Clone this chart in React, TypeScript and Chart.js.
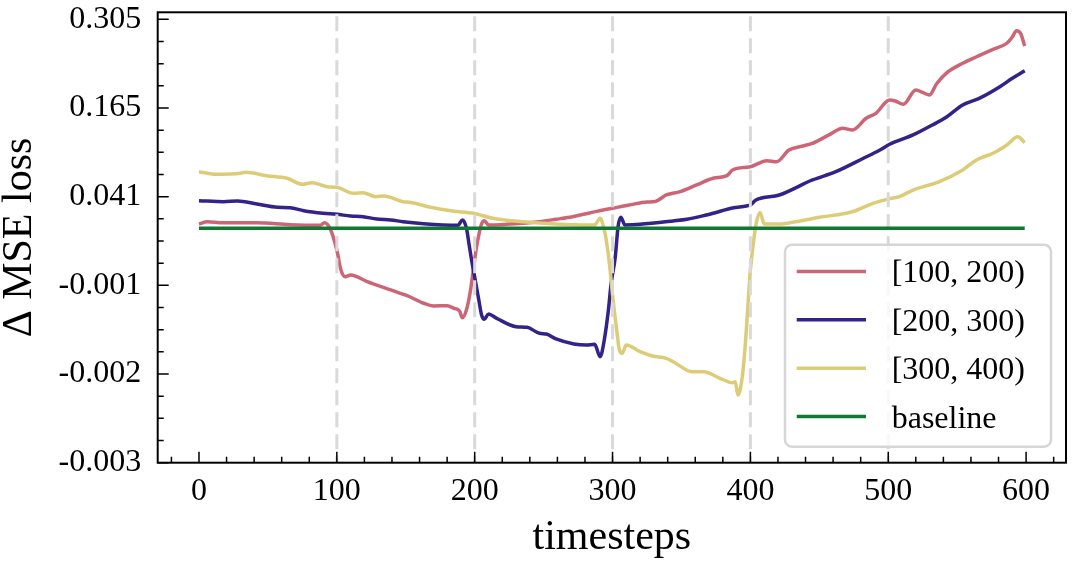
import { useEffect, useRef } from "react";
import { Chart, registerables } from "chart.js";

Chart.register(...registerables);

// Values are expressed in axis units of the (non-linear) loss axis: tick i carries label yTickLabels[i].
const yTickLabels = ["-0.003", "-0.002", "-0.001", "0.041", "0.165", "0.305"];
const boundaries = [100, 200, 300, 400, 500];

const seriesLabels = ["[100, 200)", "[200, 300)", "[300, 400)", "baseline"];
const seriesColors = ["#CC6677", "#332288", "#DDCC77", "#117733"];

const t100 = [0, 6, 17, 42, 66, 88, 91, 95, 100, 103, 106, 110, 122, 139, 151, 163, 170, 180, 185, 189, 191, 194, 197, 199, 201, 203, 205, 207, 210, 223, 235, 247, 259, 271, 284, 296, 300, 308, 312, 325, 331, 339, 349, 361, 373, 383, 387, 400, 412, 419, 428, 436, 445, 457, 467, 474, 484, 491, 501, 505, 511, 520, 525, 530, 535, 542, 554, 564, 576, 586, 590, 593, 596, 599];
const loss100 = [2.692, 2.718, 2.706, 2.706, 2.684, 2.677, 2.706, 2.643, 2.399, 2.173, 2.098, 2.117, 2.041, 1.948, 1.883, 1.798, 1.767, 1.77, 1.741, 1.711, 1.635, 1.722, 1.948, 2.173, 2.399, 2.568, 2.692, 2.729, 2.681, 2.688, 2.7, 2.718, 2.745, 2.774, 2.819, 2.858, 2.869, 2.895, 2.906, 2.94, 2.946, 3.019, 3.056, 3.132, 3.207, 3.237, 3.301, 3.338, 3.406, 3.394, 3.526, 3.564, 3.602, 3.696, 3.771, 3.752, 3.884, 3.94, 4.09, 4.079, 4.042, 4.203, 4.175, 4.147, 4.271, 4.391, 4.504, 4.578, 4.662, 4.73, 4.801, 4.872, 4.842, 4.699];

const t200 = [0, 18, 28, 42, 57, 66, 76, 90, 100, 110, 119, 129, 139, 148, 163, 177, 188, 191, 194, 196, 198, 200, 203, 205, 207, 210, 216, 230, 238, 247, 252, 259, 272, 281, 287, 291, 294, 297, 299, 302, 304, 306, 309, 320, 344, 354, 368, 373, 387, 397, 400, 404, 421, 445, 462, 482, 494, 501, 518, 532, 542, 554, 566, 581, 590, 599];
const loss200 = [2.955, 2.943, 2.951, 2.917, 2.88, 2.876, 2.842, 2.813, 2.801, 2.782, 2.774, 2.748, 2.737, 2.718, 2.695, 2.681, 2.677, 2.737, 2.647, 2.455, 2.263, 2.094, 1.835, 1.666, 1.617, 1.677, 1.628, 1.534, 1.527, 1.459, 1.451, 1.395, 1.339, 1.327, 1.335, 1.195, 1.384, 1.722, 2.023, 2.323, 2.661, 2.767, 2.681, 2.688, 2.726, 2.745, 2.793, 2.813, 2.872, 2.895, 2.906, 2.962, 3.019, 3.188, 3.282, 3.433, 3.526, 3.591, 3.696, 3.808, 3.895, 4.034, 4.109, 4.24, 4.335, 4.421];

const t300 = [0, 13, 30, 34, 49, 64, 75, 82, 93, 100, 112, 119, 128, 134, 148, 153, 168, 184, 199, 213, 235, 259, 283, 287, 291, 294, 296, 298, 300, 303, 305, 307, 310, 320, 329, 339, 344, 358, 366, 378, 387, 389, 391, 394, 396, 398, 400, 402, 404, 407, 410, 421, 433, 450, 474, 489, 499, 508, 518, 537, 554, 564, 576, 586, 594, 599];
const loss300 = [3.282, 3.252, 3.264, 3.275, 3.237, 3.207, 3.14, 3.158, 3.112, 3.106, 3.038, 3.045, 3.0, 3.008, 2.943, 2.937, 2.88, 2.838, 2.813, 2.756, 2.718, 2.692, 2.681, 2.681, 2.756, 2.624, 2.455, 2.21, 1.891, 1.496, 1.271, 1.234, 1.327, 1.252, 1.203, 1.177, 1.139, 1.026, 1.026, 0.952, 0.902, 0.913, 0.763, 0.955, 1.271, 1.722, 2.173, 2.455, 2.681, 2.822, 2.692, 2.692, 2.718, 2.767, 2.83, 2.925, 2.97, 3.0, 3.075, 3.169, 3.301, 3.414, 3.489, 3.583, 3.676, 3.609];

const tBaseline = [0, 599];
const lossBaseline = [2.643, 2.643];

const FONT = "'Liberation Serif', 'Times New Roman', serif";

const toPoints = (xs: number[], ys: number[]) => xs.map((x, i) => ({ x, y: ys[i] }));

const decorPlugin = {
  id: "decor",
  afterDatasetDraw(chart: any, args: any) {
    if (args.index !== 2) return;
    const { ctx, chartArea: a, scales } = chart;
    ctx.save();
    ctx.beginPath();
    ctx.rect(a.left, a.top, a.right - a.left, a.bottom - a.top);
    ctx.clip();
    ctx.strokeStyle = "#d9d9d9";
    ctx.lineWidth = 3;
    ctx.setLineDash([15, 7]);
    for (const b of boundaries) {
      const px = scales.x.getPixelForValue(b);
      ctx.beginPath();
      ctx.moveTo(px, a.top + 4);
      ctx.lineTo(px, a.bottom);
      ctx.stroke();
    }
    ctx.restore();
  },
  afterDraw(chart: any) {
    const { ctx, chartArea: a, scales } = chart;
    const xs = scales.x;
    const ys = scales.y;
    ctx.save();
    // spines
    ctx.strokeStyle = "#000";
    ctx.lineWidth = 2;
    ctx.setLineDash([]);
    ctx.strokeRect(a.left, a.top, a.right - a.left, a.bottom - a.top);
    // y ticks (inward)
    ctx.lineWidth = 1.5;
    ctx.beginPath();
    for (let v = 0; v <= ys.max + 1e-9; v += 0.25) {
      const py = ys.getPixelForValue(v);
      const major = Math.abs(v - Math.round(v)) < 1e-6;
      const len = major ? 11 : 6;
      ctx.moveTo(a.left, py);
      ctx.lineTo(a.left + len, py);
    }
    // x ticks (inward)
    for (let v = -20; v <= xs.max; v += 20) {
      if (v < xs.min) continue;
      const px = xs.getPixelForValue(v);
      const major = v % 100 === 0;
      const len = major ? 11 : 6;
      ctx.moveTo(px, a.bottom);
      ctx.lineTo(px, a.bottom - len);
    }
    ctx.stroke();

    // axis titles
    ctx.fillStyle = "#000";
    ctx.font = `42px ${FONT}`;
    ctx.textAlign = "center";
    ctx.textBaseline = "alphabetic";
    ctx.fillText("timesteps", (a.left + a.right) / 2, 549);
    ctx.save();
    ctx.translate(31, (a.top + a.bottom) / 2);
    ctx.rotate(-Math.PI / 2);
    ctx.fillText("\u0394 MSE loss", 0, 0);
    ctx.restore();

    // legend
    const bw = 266;
    const bh = 202;
    const bx = a.right - 15 - bw;
    const by = a.bottom - 16 - bh;
    ctx.beginPath();
    ctx.roundRect(bx, by, bw, bh, 7);
    ctx.fillStyle = "rgba(255,255,255,0.8)";
    ctx.fill();
    ctx.strokeStyle = "#d6d6d6";
    ctx.lineWidth = 2.5;
    ctx.stroke();
    ctx.font = `32px ${FONT}`;
    ctx.textAlign = "left";
    ctx.textBaseline = "alphabetic";
    chart.data.datasets.forEach((ds: any, i: number) => {
      const ry = by + 26.7 + i * 48.4;
      ctx.strokeStyle = ds.borderColor;
      ctx.lineWidth = 3.5;
      ctx.beginPath();
      ctx.moveTo(bx + 11.7, ry);
      ctx.lineTo(bx + 81, ry);
      ctx.stroke();
      ctx.fillStyle = "#000";
      ctx.fillText(ds.label, bx + 106.7, ry + 11);
    });
    ctx.restore();
  },
};

export default function App() {
  const canvasRef = useRef<HTMLCanvasElement | null>(null);

  useEffect(() => {
    document.body.style.margin = "0";
    const canvas = canvasRef.current;
    if (!canvas) return;
    const series = [
      toPoints(t100, loss100),
      toPoints(t200, loss200),
      toPoints(t300, loss300),
      toPoints(tBaseline, lossBaseline),
    ];
    const chart = new Chart(canvas, {
      type: "line",
      data: {
        datasets: series.map((data, i) => ({
          label: seriesLabels[i],
          data,
          borderColor: seriesColors[i],
          backgroundColor: seriesColors[i],
          borderWidth: 3.5,
          pointRadius: 0,
          fill: false,
          cubicInterpolationMode: "monotone" as const,
          order: 3 - i,
        })),
      },
      options: {
        animation: false,
        responsive: false,
        devicePixelRatio: 1,
        layout: { padding: { left: 0, right: 7, top: 12.3, bottom: 0 } },
        plugins: { legend: { display: false }, tooltip: { enabled: false } },
        scales: {
          x: {
            type: "linear",
            min: -29.95,
            max: 628.95,
            afterFit: (s: any) => {
              s.height = 100.3;
              s.paddingLeft = 0;
              s.paddingRight = 0;
            },
            grid: { display: false, drawTicks: false },
            border: { display: false },
            ticks: {
              stepSize: 100,
              includeBounds: false,
              autoSkip: false,
              maxRotation: 0,
              color: "#000",
              padding: 10,
              font: { family: FONT, size: 32 },
            },
          },
          y: {
            type: "linear",
            min: 0,
            max: 5.079,
            afterFit: (s: any) => {
              s.width = 157.7;
              s.paddingTop = 0;
              s.paddingBottom = 0;
            },
            grid: { display: false, drawTicks: false },
            border: { display: false },
            ticks: {
              stepSize: 1,
              includeBounds: false,
              autoSkip: false,
              color: "#000",
              padding: 16.5,
              font: { family: FONT, size: 32 },
              callback: (v: any) => yTickLabels[Math.round(Number(v))] ?? "",
            },
          },
        },
      },
      plugins: [decorPlugin],
    });
    return () => chart.destroy();
  }, []);

  return (
    <div style={{ position: "absolute", left: 0, top: 0, width: 1073, height: 563 }}>
      <canvas ref={canvasRef} width={1073} height={563} style={{ display: "block" }} />
    </div>
  );
}
